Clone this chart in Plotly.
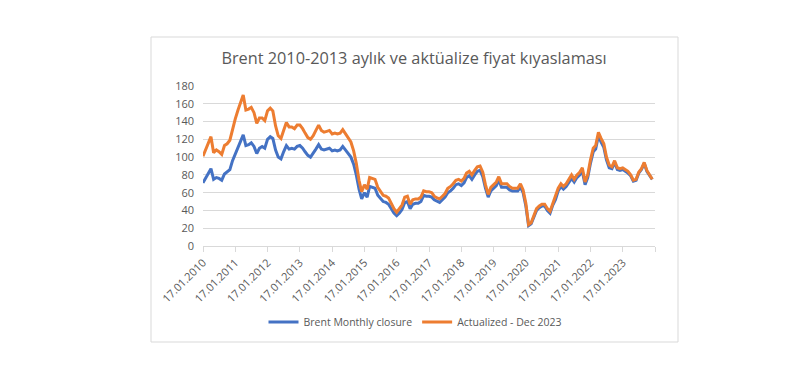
import plotly.graph_objects as go

# Monthly observation dates (17th of each month, Jan 2010 - Dec 2023)
dates = [f"{y}-{m:02d}-17" for y in range(2010, 2024) for m in range(1, 13)]

brent_monthly = [
    71, 77, 82, 87, 75, 77, 76, 74, 81, 83, 86, 96,          # 2010
    104, 112, 119, 125, 113, 114, 116, 112, 104, 110, 112, 110,  # 2011
    120, 123, 121, 108, 100, 98, 106, 113, 109, 110, 109, 112,   # 2012
    113, 110, 106, 102, 100, 104, 109, 114, 109, 108, 109, 110,  # 2013
    107, 108, 107, 108, 112, 108, 104, 100, 92, 80, 64, 53,      # 2014
    60, 55, 67, 66, 65, 57, 53, 50, 49, 47, 42, 37,              # 2015
    34, 37, 41, 49, 50, 42, 47, 48, 48, 50, 57, 56,              # 2016
    56, 55, 52, 50, 49, 52, 55, 60, 62, 65, 69, 70,              # 2017
    68, 71, 77, 79, 75, 80, 84, 85, 78, 65, 55, 62,              # 2018
    65, 68, 74, 66, 66, 66, 63, 62, 62, 62, 66, 60,              # 2019
    45, 23, 25, 33, 40, 43, 45, 45, 40, 37, 46, 52,              # 2020
    62, 67, 64, 67, 72, 76, 72, 77, 80, 84, 69, 77,              # 2021
    93, 106, 109, 124, 117, 111, 97, 88, 87, 94, 86, 85,         # 2022
    86, 84, 82, 79, 73, 74, 82, 86, 93, 84, 79, 75,              # 2023
]

actualized_dec2023 = [
    101, 109, 116, 123, 105, 108, 106, 103, 113, 115, 119, 132,  # 2010
    143, 153, 162, 170, 153, 154, 156, 150, 138, 144, 144, 141,  # 2011
    152, 155, 152, 135, 124, 121, 130, 139, 134, 134, 132, 136,  # 2012
    136, 132, 127, 122, 120, 124, 130, 136, 130, 128, 129, 130,  # 2013
    126, 127, 126, 127, 131, 126, 121, 117, 107, 93, 74, 61,     # 2014
    69, 64, 77, 76, 75, 66, 61, 57, 56, 54, 48, 42,              # 2015
    38, 42, 46, 55, 56, 47, 52, 53, 53, 55, 62, 61,              # 2016
    61, 60, 56, 54, 53, 56, 59, 65, 67, 70, 74, 75,              # 2017
    73, 76, 82, 84, 80, 85, 89, 90, 83, 69, 58, 66,              # 2018
    69, 72, 78, 70, 70, 70, 67, 65, 65, 65, 70, 63,              # 2019
    48, 24, 26, 35, 42, 45, 47, 47, 42, 39, 48, 55,              # 2020
    65, 70, 67, 70, 75, 80, 75, 80, 83, 88, 72, 80,              # 2021
    97, 110, 113, 128, 121, 115, 100, 91, 89, 96, 88, 87,        # 2022
    88, 86, 84, 80, 74, 75, 83, 87, 94, 85, 79, 75,              # 2023
]

tick_years = list(range(2010, 2025))
tick_vals = [f"{y}-01-17" for y in tick_years]
tick_text = [f"17.01.{y}" for y in tick_years[:-1]] + [""]

y_ticks = [0, 20, 40, 60, 80, 100, 120, 140, 160, 180]

series_names = ["Brent Monthly closure", "Actualized - Dec 2023"]
series_colors = ["#4472C4", "#ED7D31"]

FONT = "Open Sans, Liberation Sans, sans-serif"
GRAY = "#595959"
GRID = "#D9D9D9"

fig = go.Figure()
for name, vals, col in zip(series_names, [brent_monthly, actualized_dec2023], series_colors):
    fig.add_trace(go.Scatter(
        x=dates, y=vals, mode="lines", name=name,
        line=dict(color=col, width=3, shape="linear"),
        hoverinfo="skip",
    ))

# page body margin offset (8px) -> work in window pixel coordinates
OFF = 8
W, H = 806 - OFF, 365 - OFF
PX0, PX1 = 203, 655      # plot area left/right in window px
PY0, PY1 = 86, 246       # plot area top/bottom in window px
L, R = PX0 - OFF, W - (PX1 - OFF)
T, B = PY0 - OFF, H - (PY1 - OFF)
pw, ph = PX1 - PX0, PY1 - PY0

def px_x(x):
    return (x - PX0) / pw

def px_y(y):
    return (PY1 - y) / ph

fig.update_layout(
    width=W, height=H,
    margin=dict(l=L, r=R, t=T, b=B, autoexpand=False),
    paper_bgcolor="white", plot_bgcolor="white",
    font=dict(family=FONT, color=GRAY, size=11),
    title=dict(
        text="Brent 2010-2013 aylık ve aktüalize fiyat kıyaslaması",
        x=px_x(414), xref="paper", xanchor="center",
        y=1 - (58 - OFF) / H, yref="container", yanchor="middle",
        font=dict(family=FONT, size=16.3, color=GRAY),
    ),
    showlegend=True,
    legend=dict(
        orientation="h", x=px_x(415), xanchor="center",
        y=px_y(322), yanchor="middle",
        font=dict(family=FONT, size=10.5, color=GRAY),
        bgcolor="rgba(0,0,0,0)", itemwidth=30, tracegroupgap=0,
    ),
    xaxis=dict(
        type="date",
        range=["2010-01-17", "2024-01-17"],
        tickmode="array", tickvals=tick_vals, ticktext=tick_text,
        tickangle=-45,
        ticks="outside", ticklen=5, tickcolor=GRID, tickwidth=1,
        showgrid=False, zeroline=False,
        showline=True, linecolor=GRID, linewidth=1,
        tickfont=dict(family=FONT, size=11, color=GRAY),
        automargin=False, fixedrange=True,
    ),
    yaxis=dict(
        range=[0, 180], tickmode="array", tickvals=y_ticks,
        showgrid=True, gridcolor=GRID, gridwidth=1,
        zeroline=False, showline=False, ticks="",
        ticklabelstandoff=8,
        tickfont=dict(family=FONT, size=11, color=GRAY),
        automargin=False, fixedrange=True,
    ),
    shapes=[dict(
        type="rect", xref="paper", yref="paper",
        x0=px_x(151), x1=px_x(678), y0=px_y(342), y1=px_y(37),
        line=dict(color=GRID, width=1), fillcolor="rgba(0,0,0,0)", layer="below",
    )],
)

fig.write_html("out.html")
